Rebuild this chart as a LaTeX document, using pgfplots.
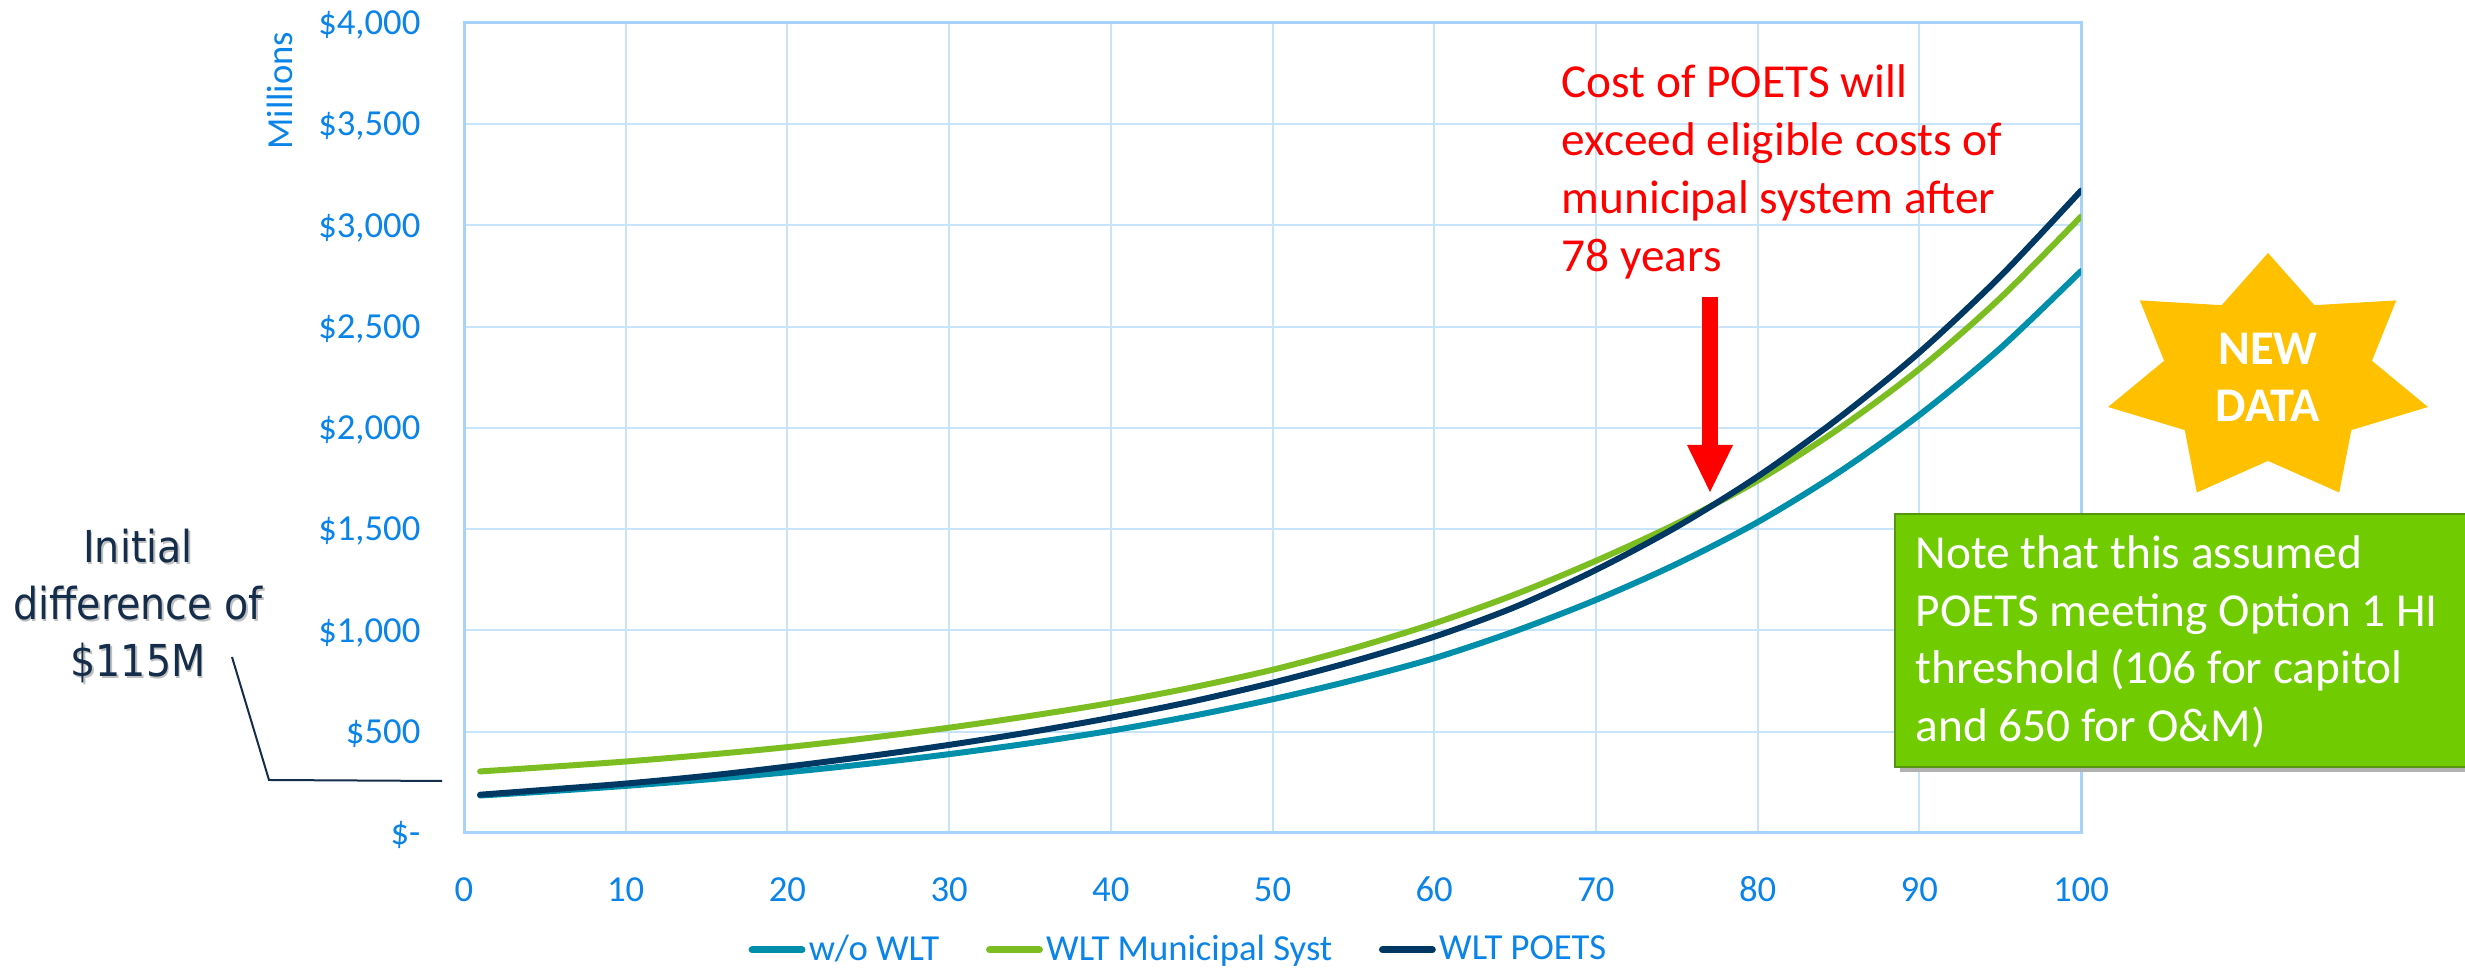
\documentclass[border=0pt]{standalone}
\usepackage{fontspec}
\setmainfont{Carlito}
\newfontfamily\vfont[FakeStretch=0.9]{DejaVu Sans}
\usepackage{pgfplots}
\pgfplotsset{compat=1.18}

\definecolor{tickblue}{RGB}{10,132,232}
\definecolor{gridblue}{RGB}{200,228,251}
\definecolor{axisblue}{RGB}{166,211,250}
\definecolor{cteal}{RGB}{0,143,170}
\definecolor{cgreen}{RGB}{124,190,34}
\definecolor{cnavy}{RGB}{0,56,100}
\definecolor{stargold}{RGB}{255,192,0}
\definecolor{boxgreen}{RGB}{112,204,0}
\definecolor{boxborder}{RGB}{84,150,20}
\definecolor{annot}{RGB}{20,45,75}

\newcommand{\tfont}{\fontsize{11}{13}\selectfont}
\newcommand{\bfontA}{\fontsize{14.2}{17}\selectfont}

\begin{document}
\begin{tikzpicture}
\path[use as bounding box] (0,0) rectangle (739.5pt,290.7pt);
\begin{axis}[
  at={(139.2pt,40.8pt)}, anchor=south west, scale only axis,
  width=485.1pt, height=243pt,
  xmin=0, xmax=100, ymin=0, ymax=4000,
  xtick={0,10,...,100}, ytick={0,500,...,4000},
  xticklabels={0,10,20,30,40,50,60,70,80,90,100},
  yticklabels={{\$-},{\$500},{\$1,000},{\$1,500},{\$2,000},{\$2,500},{\$3,000},{\$3,500},{\$4,000}},
  grid=major,
  major grid style={draw=gridblue, line width=0.6pt},
  axis line style={draw=axisblue, line width=0.9pt},
  major tick length=0pt,
  xticklabel style={font=\tfont, text=tickblue, anchor=base, inner sep=0pt, yshift=-20.6pt},
  yticklabel style={font=\tfont, text=tickblue, anchor=base east, inner sep=0pt, xshift=-12.9pt, yshift=-3.5pt},
  legend columns=3,
  legend style={at={(axis description cs:0.1756,-0.1444)}, anchor=west, draw=none, fill=none,
    inner sep=0pt, font=\tfont, text=tickblue,
    /tikz/every even column/.append style={column sep=13pt},
    nodes={inner sep=1pt}},
  legend image code/.code={\draw[#1, line width=2.1pt, line cap=round] (1.05pt,0pt) -- (16pt,0pt);},
]
\addplot[cteal, line width=1.8pt, smooth, line cap=round, line join=round] coordinates {
(1,185)(5,204.8)(10,232.6)(15,264.1)(20,300)(25,341.8)(30,389.3)(35,443.4)(40,505)(45,577.4)(50,660.2)
(55,754.9)(60,863)(65,996.7)(70,1151)(75,1329)(80,1535)(85,1780)(90,2064)(95,2393)(100,2775)};
\addlegendentry{w/o WLT}
\addplot[cgreen, line width=1.8pt, smooth, line cap=round, line join=round] coordinates {
(1,304)(5,325)(10,353)(15,386)(20,424)(25,469)(30,520)(35,578)(40,642)(45,718)(50,806)
(55,912)(60,1035)(65,1178)(70,1344)(75,1528)(80,1740)(85,1995)(90,2291)(95,2641)(100,3044)};
\addlegendentry{WLT Municipal Syst}
\addplot[cnavy, line width=1.8pt, smooth, line cap=round, line join=round] coordinates {
(1,189)(5,213)(10,244)(15,282)(20,328)(25,379)(30,435)(35,498)(40,569)(45,649)(50,742)
(55,848)(60,969)(65,1116)(70,1299)(75,1512)(80,1760)(85,2048)(90,2373)(95,2748)(100,3172)};
\addlegendentry{WLT POETS}
\end{axis}

\begin{scope}[x=0.3pt, y=-0.3pt, shift={(0pt,290.7pt)}]
  % Millions label
  \node[rotate=90, anchor=base east, inner sep=0pt, text=tickblue, font=\tfont] at (292,31) {Millions};
  % Initial difference annotation
  \foreach \dx/\col in {1.5/black!25, 0/annot} {
    \begin{scope}[shift={(\dx*0.3pt,-\dx*0.3pt)}]
    \node[anchor=base, inner sep=0pt, text=\col, font=\vfont\fontsize{13.2}{16}\selectfont] at (138,563) {Initial};
    \node[anchor=base, inner sep=0pt, text=\col, font=\vfont\fontsize{13.2}{16}\selectfont] at (138,620) {difference of};
    \node[anchor=base, inner sep=0pt, text=\col, font=\vfont\fontsize{13.2}{16}\selectfont] at (138,677) {\$115M};
    \end{scope}
  }
  \draw[annot, line width=0.6pt] (232,657) -- (269,780) -- (442,781);
  % red annotation
  \node[anchor=base west, inner sep=0pt, text=red, font=\bfontA] at (1561,98) {Cost of POETS will};
  \node[anchor=base west, inner sep=0pt, text=red, font=\bfontA] at (1561,156) {exceed eligible costs of};
  \node[anchor=base west, inner sep=0pt, text=red, font=\bfontA] at (1561,214) {municipal system after};
  \node[anchor=base west, inner sep=0pt, text=red, font=\bfontA] at (1561,272) {78 years};
  \fill[red] (1702,297) rectangle (1718,446);
  \fill[red] (1687,445) -- (1733,445) -- (1710,492) -- cycle;
  % star
  \fill[stargold] (2268,253) -- (2314.3,305.2) -- (2396.2,300.4) -- (2371.9,360.8) -- (2427.9,407.0)
     -- (2351.3,430.1) -- (2339.2,492.5) -- (2268,460.9) -- (2196.8,492.5) -- (2184.7,430.1)
     -- (2108.1,407.0) -- (2164.1,360.8) -- (2139.8,300.4) -- (2221.7,305.2) -- cycle;
  \node[anchor=base, inner sep=0pt, text=white, font=\fontsize{14.5}{17}\selectfont\bfseries] at (2268,365) {NEW};
  \node[anchor=base, inner sep=0pt, text=white, font=\fontsize{14.5}{17}\selectfont\bfseries] at (2268,422) {DATA};
  % green note box
  \fill[black!30] (1900,519) rectangle (2475,772);
  \filldraw[fill=boxgreen, draw=boxborder, line width=0.5pt] (1895,514) rectangle (2475,767);
  \node[anchor=base west, inner sep=0pt, text=white, font=\bfontA] at (1915,569) {Note that this assumed};
  \node[anchor=base west, inner sep=0pt, text=white, font=\bfontA] at (1915,627) {POETS meeting Option 1 HI};
  \node[anchor=base west, inner sep=0pt, text=white, font=\bfontA] at (1915,684) {threshold (106 for capitol};
  \node[anchor=base west, inner sep=0pt, text=white, font=\bfontA] at (1915,742) {and 650 for O\&M)};
\end{scope}
\end{tikzpicture}
\end{document}
